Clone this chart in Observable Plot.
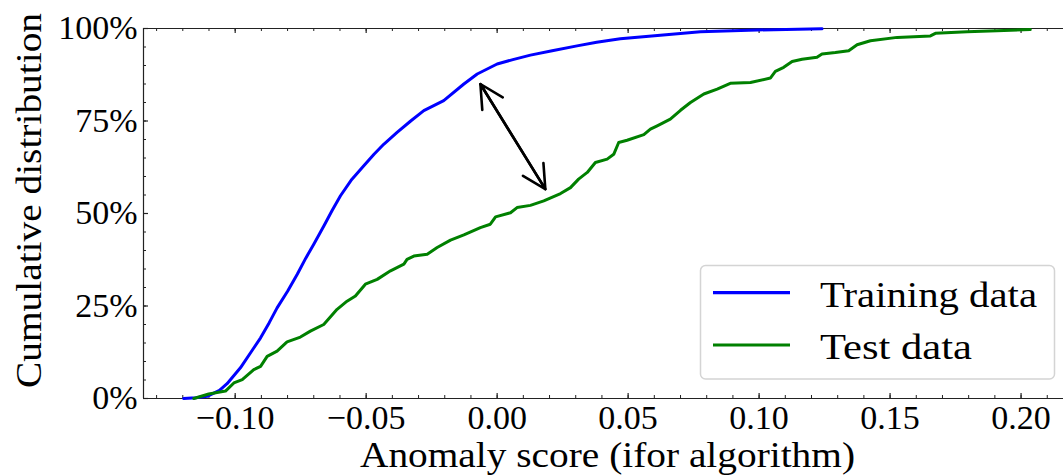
<!DOCTYPE html>
<html>
<head>
<meta charset="utf-8">
<script src="https://cdn.jsdelivr.net/npm/d3@7"></script>
<script src="https://cdn.jsdelivr.net/npm/@observablehq/plot@0.6"></script>
<style>
  html, body { margin: 0; padding: 0; background: #fff; }
  #chart { position: relative; width: 1063px; height: 476px; }
</style>
</head>
<body>
<div id="chart"></div>
<script>
// ---- Data ----
const seriesNames = ["Training data", "Test data"];
const seriesColors = ["#0000ff", "#008000"];

// Training data ECDF: anomaly score -> cumulative fraction
const trainScores = [-0.1197,-0.115,-0.1107,-0.106,-0.1031,-0.098,-0.094,-0.0903,-0.087,-0.084,-0.080,-0.0763,-0.073,-0.070,-0.066,-0.063,-0.0598,-0.0555,-0.0509,-0.047,-0.0433,-0.0382,-0.033,-0.028,-0.0204,-0.0127,-0.0076,0.0,0.006,0.0127,0.021,0.0305,0.038,0.047,0.0623,0.0776,0.0992,0.124];
const trainCdf    = [0,0.002,0.006,0.022,0.040,0.083,0.125,0.164,0.205,0.245,0.29,0.336,0.38,0.417,0.468,0.508,0.548,0.592,0.629,0.66,0.687,0.719,0.75,0.778,0.805,0.850,0.877,0.904,0.916,0.928,0.94,0.953,0.963,0.972,0.982,0.991,0.996,0.999];

// Test data ECDF
const testScores = [-0.1158,-0.1101,-0.1037,-0.1005,-0.0973,-0.0929,-0.0903,-0.0878,-0.084,-0.0802,-0.0751,-0.0713,-0.0662,-0.0611,-0.0573,-0.0541,-0.0503,-0.0458,-0.0407,-0.0356,-0.0344,-0.0318,-0.0267,-0.0229,-0.0178,-0.0127,-0.0064,-0.0026,-0.0006,0.0051,0.0076,0.0127,0.0178,0.0242,0.028,0.0311,0.0344,0.0375,0.042,0.0445,0.0464,0.0496,0.056,0.0585,0.0611,0.0661,0.070,0.0738,0.0789,0.084,0.089,0.0967,0.1043,0.1062,0.1094,0.1126,0.1164,0.1221,0.124,0.1291,0.1342,0.1374,0.1425,0.1527,0.1654,0.1673,0.1794,0.1908,0.2035];
const testCdf    = [0,0.012,0.020,0.042,0.051,0.078,0.087,0.114,0.128,0.153,0.166,0.182,0.200,0.241,0.263,0.277,0.309,0.322,0.345,0.363,0.376,0.385,0.390,0.408,0.428,0.442,0.462,0.471,0.491,0.502,0.516,0.522,0.534,0.554,0.570,0.593,0.611,0.638,0.647,0.660,0.692,0.698,0.713,0.728,0.737,0.755,0.779,0.800,0.823,0.836,0.852,0.854,0.866,0.884,0.895,0.911,0.917,0.922,0.931,0.935,0.940,0.956,0.967,0.976,0.980,0.987,0.991,0.994,0.997];

// Double-headed annotation arrow endpoints (score, fraction)
const arrowStart = [-0.0064, 0.850];
const arrowEnd   = [0.0184, 0.566];

// Axes
const xDomain = [-0.135, 0.2162];
const yDomain = [0, 1];
const xMajorTicks = [-0.10, -0.05, 0.00, 0.05, 0.10, 0.15, 0.20];
const xMinorTicks = d3.range(-13, 22).map(i => i / 100);
const yMajorTicks = [0, 0.25, 0.5, 0.75, 1];
const yMinorTicks = d3.range(0, 21).map(i => i / 20);
const xLabel = "Anomaly score (ifor algorithm)";
const yLabel = "Cumulative distribution";

// ---- Build tables ----
const train = trainScores.map((s, i) => ({score: s, cdf: trainCdf[i], series: seriesNames[0]}));
const test = testScores.map((s, i) => ({score: s, cdf: testCdf[i], series: seriesNames[1]}));
const arrows = [
  {x1: arrowStart[0], y1: arrowStart[1], x2: arrowEnd[0], y2: arrowEnd[1]},
  {x1: arrowEnd[0], y1: arrowEnd[1], x2: arrowStart[0], y2: arrowStart[1]}
];

// ---- Layout ----
const W = 1063, H = 476;
const mL = 143, mR = 0, mT = 28, mB = 78;
const plotW = W - mL - mR, plotH = H - mT - mB;
const FONT = "'Liberation Serif', 'DejaVu Serif', serif";
const axisColor = "#222";
const majorLen = 5, minorLen = 3;

const chart = Plot.plot({
  width: W, height: H,
  marginLeft: mL, marginRight: mR, marginTop: mT, marginBottom: mB,
  style: {fontFamily: FONT, fontSize: "34px", background: "#fff", color: "#000", overflow: "visible"},
  x: {domain: xDomain},
  y: {domain: yDomain},
  marks: [
    // inward ticks (bottom, top, left)
    Plot.tickX(xMinorTicks, {x: d => d, insetTop: plotH - minorLen, stroke: axisColor, strokeWidth: 1}),
    Plot.tickX(xMajorTicks, {x: d => d, insetTop: plotH - majorLen, stroke: axisColor, strokeWidth: 1.2}),
    Plot.tickX(xMinorTicks, {x: d => d, insetBottom: plotH - minorLen, stroke: axisColor, strokeWidth: 1}),
    Plot.tickX(xMajorTicks, {x: d => d, insetBottom: plotH - majorLen, stroke: axisColor, strokeWidth: 1.2}),
    Plot.tickY(yMinorTicks, {y: d => d, insetRight: plotW - minorLen, stroke: axisColor, strokeWidth: 1}),
    Plot.tickY(yMajorTicks, {y: d => d, insetRight: plotW - majorLen, stroke: axisColor, strokeWidth: 1.2}),
    // spines
    Plot.ruleY([yDomain[0]], {stroke: axisColor, strokeWidth: 1.2}),
    Plot.ruleY([yDomain[1]], {stroke: axisColor, strokeWidth: 1.2}),
    Plot.ruleX([xDomain[0]], {stroke: axisColor, strokeWidth: 1.2}),
    // tick labels
    Plot.axisX({ticks: xMajorTicks, tickSize: 0, tickPadding: 6, tickFormat: d3.format(".2f"), label: null, fontSize: 34}),
    Plot.axisY({ticks: yMajorTicks, tickSize: 0, tickPadding: 6, tickFormat: d => Math.round(d * 100) + "%", label: null, fontSize: 34}),
    // curves
    Plot.line(train, {x: "score", y: "cdf", stroke: seriesColors[0], strokeWidth: 3}),
    Plot.line(test, {x: "score", y: "cdf", stroke: seriesColors[1], strokeWidth: 3}),
    // double-headed arrow
    Plot.arrow(arrows, {x1: "x1", y1: "y1", x2: "x2", y2: "y2", stroke: "#000", strokeWidth: 2.6, headLength: 15, headAngle: 55})
  ]
});

document.getElementById("chart").appendChild(chart);

const svg = d3.select(chart);

// ---- Axis titles ----
svg.append("text")
  .attr("x", 607.5 - 247.5).attr("y", 467)
  .attr("text-anchor", "start")
  .attr("textLength", 495).attr("lengthAdjust", "spacingAndGlyphs")
  .attr("font-family", FONT).attr("font-size", 36).attr("fill", "#000")
  .text(xLabel);
svg.append("text")
  .attr("transform", "translate(41,388) rotate(-90)")
  .attr("x", 0).attr("y", 0)
  .attr("text-anchor", "start")
  .attr("textLength", 375).attr("lengthAdjust", "spacingAndGlyphs")
  .attr("font-family", FONT).attr("font-size", 36).attr("fill", "#000")
  .text(yLabel);

// ---- Legend ----
const lg = svg.append("g").attr("class", "legend");
lg.append("rect")
  .attr("x", 700.5).attr("y", 265.5).attr("width", 354).attr("height", 113.5)
  .attr("rx", 5).attr("ry", 5)
  .attr("fill", "rgba(255,255,255,0.85)").attr("stroke", "#d4d4d4").attr("stroke-width", 1.5);
const rowY = [292.7, 345];
const rowBase = [306.5, 358.5];
const rowLen = [217, 152];
seriesNames.forEach((name, i) => {
  lg.append("line").attr("x1", 713).attr("x2", 790).attr("y1", rowY[i]).attr("y2", rowY[i])
    .attr("stroke", seriesColors[i]).attr("stroke-width", 3.2);
  lg.append("text").attr("x", 820).attr("y", rowBase[i])
    .attr("text-anchor", "start")
    .attr("textLength", rowLen[i]).attr("lengthAdjust", "spacingAndGlyphs")
    .attr("font-family", FONT).attr("font-size", 36).attr("fill", "#000").text(name);
});
</script>
</body>
</html>
